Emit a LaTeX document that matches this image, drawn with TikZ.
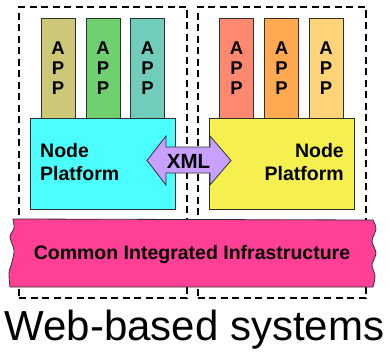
\documentclass[tikz,border=0pt]{standalone}
\usepackage{fontspec}
\setmainfont{Liberation Sans}
\definecolor{appOlive}{HTML}{CCC878}
\definecolor{appGreen}{HTML}{70D070}
\definecolor{appTeal}{HTML}{70CCBB}
\definecolor{appSalmon}{HTML}{FF8870}
\definecolor{appOrange}{HTML}{FFAA50}
\definecolor{appSand}{HTML}{FFD478}
\definecolor{platCyan}{HTML}{4CFFFF}
\definecolor{platYellow}{HTML}{F5F050}
\definecolor{xmlLilac}{HTML}{C8A0FF}
\definecolor{infraPink}{HTML}{FF4096}
\definecolor{edge}{HTML}{303030}
\begin{document}
\begin{tikzpicture}[x=1pt,y=-1pt,
  frame/.style={draw=black, line width=2pt, dash pattern=on 7pt off 4.5pt,
    inner sep=0pt, minimum width=168pt, minimum height=291pt},
  appbox/.style={draw=edge, line width=0.8pt, inner sep=0pt,
    minimum width=34pt, minimum height=100pt, align=center,
    font=\fontsize{18.5}{20}\selectfont\bfseries},
  platbox/.style={draw=edge, line width=0.8pt, inner sep=0pt,
    minimum width=145pt, minimum height=91pt},
  label/.style={inner sep=0pt, font=\fontsize{19.5}{23}\selectfont\bfseries}]
\useasboundingbox (0,0) rectangle (390,356);

% dashed system frames
\node[frame] (frameL) at (103,152.5) {};
\node[frame] (frameR) at (281.5,152.5) {};

% applications
\node[appbox, fill=appOlive]  (a1) at (58,68)    {A\\P\\P};
\node[appbox, fill=appGreen]  (a2) at (103,68)   {A\\P\\P};
\node[appbox, fill=appTeal]   (a3) at (147.5,68) {A\\P\\P};
\node[appbox, fill=appSalmon] (a4) at (236.5,68) {A\\P\\P};
\node[appbox, fill=appOrange] (a5) at (281.5,68) {A\\P\\P};
\node[appbox, fill=appSand]   (a6) at (326,68)   {A\\P\\P};

% node platforms
\node[platbox, fill=platCyan]   (pL) at (102.5,163.5) {};
\node[platbox, fill=platYellow] (pR) at (281.5,163.5) {};
\node[label, align=left, anchor=west]  (tL) at (40,162.4)  {Node\\Platform};
\node[label, align=right, anchor=east] (tR) at (344,162.4) {Node\\Platform};

% XML exchange arrow
\draw[draw=edge, line width=0.8pt, fill=xmlLilac]
  (147,160.5) -- (166,136) -- (166,147) -- (210,147) -- (210,136)
  -- (231,160.5) -- (210,185) -- (210,173) -- (166,173) -- (166,185) -- cycle;
\node[inner sep=0pt, font=\fontsize{20.5}{24}\selectfont\bfseries] (xml) at (188.5,161.5) {XML};

% common infrastructure band with wavy ends
\draw[draw=edge, line width=0.8pt, fill=infraPink]
  (13,219) -- plot[smooth] coordinates {(373,220) (376,229) (372,241) (376,253) (372,265) (375,276) (373,287)}
  -- plot[smooth] coordinates {(10,287) (9,273) (12,262) (14,250) (10,237) (14,228) (13,219)}
  -- cycle;
\node[inner sep=0pt, font=\fontsize{19.5}{23}\selectfont\bfseries] (infra) at (192,254)
  {Common Integrated Infrastructure};

% caption
\node[inner sep=0pt, anchor=base, font=\fontsize{42}{48}\selectfont] (title) at (194.5,340)
  {Web-based systems};
\end{tikzpicture}
\end{document}
